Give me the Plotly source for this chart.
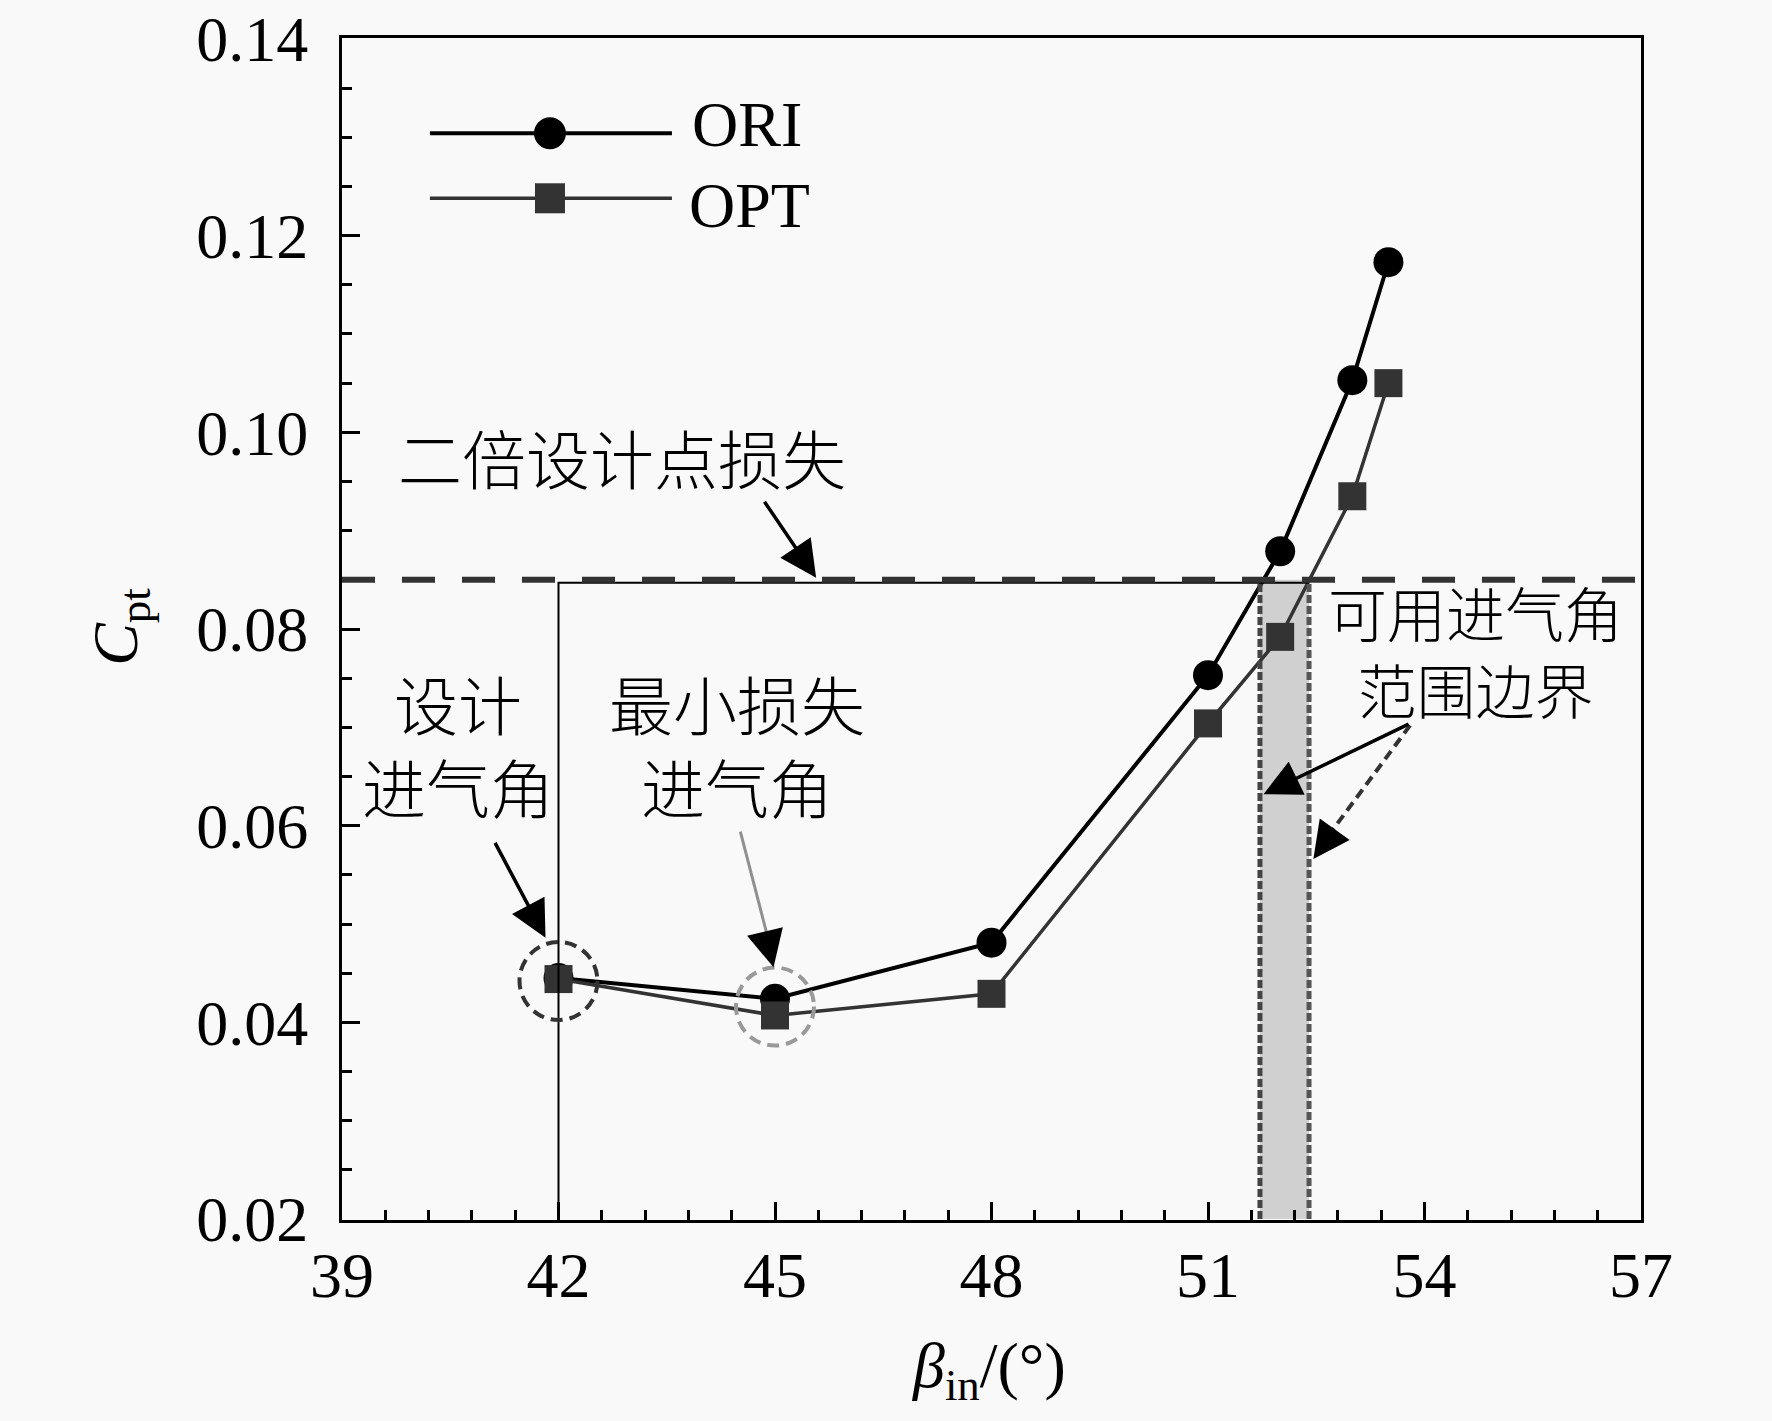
import plotly.graph_objects as go

# inlet angle [deg] and total pressure loss coefficient
beta_in = [42, 45, 48, 51, 52, 53, 53.5]
cpt_ori = [0.0445, 0.0424, 0.0481, 0.0753, 0.0879, 0.1053, 0.1173]
cpt_opt = [0.0444, 0.0407, 0.0429, 0.0704, 0.0792, 0.0935, 0.1050]

x_ticks = [39, 42, 45, 48, 51, 54, 57]
y_ticks = [0.02, 0.04, 0.06, 0.08, 0.10, 0.12, 0.14]
y_tick_labels = ["0.02", "0.04", "0.06", "0.08", "0.10", "0.12", "0.14"]

loss_limit = 0.085          # twice the design point loss
design_beta = 42
min_loss_beta = 45
usable_bounds = [51.72, 52.40]

serif = "Liberation Serif, Noto Sans CJK SC"
cjk = "Noto Sans CJK SC"
bg = "#f9f9f9"

fig = go.Figure()

fig.add_trace(go.Scatter(
    x=beta_in, y=cpt_ori, mode="lines+markers", name="ORI",
    line=dict(color="black", width=4),
    marker=dict(symbol="circle", size=30, color="black"),
    showlegend=False,
))
fig.add_trace(go.Scatter(
    x=beta_in, y=cpt_opt, mode="lines+markers", name="OPT",
    line=dict(color="#333333", width=3.5),
    marker=dict(symbol="square", size=28, color="#333333"),
    showlegend=False,
))

shapes = []
# usable range band
shapes.append(dict(type="rect", xref="x", yref="y", layer="below",
                   x0=usable_bounds[0], x1=usable_bounds[1], y0=0.02, y1=loss_limit,
                   fillcolor="#d0d0d0", line=dict(width=0)))
shapes.append(dict(type="line", xref="x", yref="y",
                   x0=usable_bounds[0], x1=usable_bounds[0], y0=0.02, y1=loss_limit,
                   line=dict(color="#444444", width=5, dash="8px,3px")))
shapes.append(dict(type="line", xref="x", yref="y",
                   x0=usable_bounds[1], x1=usable_bounds[1], y0=0.02, y1=loss_limit,
                   line=dict(color="#555555", width=5, dash="8px,3px")))
# thin guide line from design angle to the band
shapes.append(dict(type="path", xref="x", yref="y",
                   path=f"M {design_beta},0.02 L {design_beta},{loss_limit - 0.0003} L {usable_bounds[1]},{loss_limit - 0.0003}",
                   line=dict(color="black", width=2)))
# loss limit dashed line
shapes.append(dict(type="line", xref="x", yref="y", x0=39, x1=57, y0=loss_limit, y1=loss_limit,
                   line=dict(color="#333333", width=6, dash="33px,27px")))
# dashed circles
shapes.append(dict(type="circle", xref="x", yref="y", xsizemode="pixel", ysizemode="pixel",
                   xanchor=design_beta, yanchor=0.0442, x0=-39, x1=39, y0=-39, y1=39,
                   line=dict(color="#333333", width=4, dash="12px,7px")))
shapes.append(dict(type="circle", xref="x", yref="y", xsizemode="pixel", ysizemode="pixel",
                   xanchor=min_loss_beta, yanchor=0.0416, x0=-39, x1=39, y0=-39, y1=39,
                   line=dict(color="#999999", width=4, dash="12px,7px")))
# gray arrow shaft (minimum loss) and dashed arrow shaft (band right edge)
shapes.append(dict(type="line", xref="x", yref="y", x0=44.52, y0=0.0594, x1=44.94, y1=0.0475,
                   line=dict(color="#909090", width=3)))
shapes.append(dict(type="line", xref="x", yref="y", x0=53.80, y0=0.0702, x1=52.62, y1=0.0585,
                   line=dict(color="#333333", width=4, dash="10px,6px")))

# manual legend
shapes.append(dict(type="line", xref="paper", yref="paper", x0=0.0677, x1=0.254, y0=0.9194, y1=0.9194,
                   line=dict(color="black", width=4)))
shapes.append(dict(type="line", xref="paper", yref="paper", x0=0.0677, x1=0.254, y0=0.8644, y1=0.8644,
                   line=dict(color="#333333", width=3.5)))
shapes.append(dict(type="circle", xref="paper", yref="paper", xsizemode="pixel", ysizemode="pixel",
                   xanchor=0.1601, yanchor=0.9194, x0=-16, x1=16, y0=-16, y1=16,
                   fillcolor="black", line=dict(width=0)))
shapes.append(dict(type="rect", xref="paper", yref="paper", xsizemode="pixel", ysizemode="pixel",
                   xanchor=0.1601, yanchor=0.8644, x0=-15, x1=15, y0=-15, y1=15,
                   fillcolor="#333333", line=dict(width=0)))

annotations = []


def label(text, x, y, size=64, font=cjk, xref="x", yref="y", xanchor="center", angle=0, weight=None):
    f = dict(family=font, size=size, color="black")
    if weight:
        f["weight"] = weight
    annotations.append(dict(text=text, x=x, y=y, xref=xref, yref=yref, showarrow=False,
                            xanchor=xanchor, yanchor="middle", textangle=angle, font=f))


def arrow(tip_x, tip_y, tail_x, tail_y, color="black"):
    annotations.append(dict(text="", x=tip_x, y=tip_y, ax=tail_x, ay=tail_y,
                            xref="x", yref="y", axref="x", ayref="y", showarrow=True,
                            arrowhead=2, arrowsize=2.1, arrowwidth=3.5, arrowcolor=color))


def head(tip_x, tip_y, dx, dy, color="black"):
    annotations.append(dict(text="", x=tip_x, y=tip_y, ax=dx, ay=dy,
                            xref="x", yref="y", showarrow=True,
                            arrowhead=2, arrowsize=2.1, arrowwidth=3.5, arrowcolor=color))


label("二倍设计点损失", 42.88, 0.0976, weight=300)
label("设计<br>进气角", 40.61, 0.0684, weight=300)
label("最小损失<br>进气角", 44.48, 0.0684, weight=300)
label("可用进气角<br>范围边界", 54.70, 0.0779, size=59, weight=300)

arrow(45.57, 0.0852, 44.84, 0.0931)
arrow(41.82, 0.0486, 41.11, 0.0584)
arrow(51.77, 0.0632, 53.80, 0.0704)
head(44.98, 0.0456, -7, -29)
head(52.46, 0.0566, 20, -28)

# legend text
label("ORI", 0.2679, 0.9270, font=serif, xref="paper", yref="paper", xanchor="left")
label("OPT", 0.2656, 0.8585, font=serif, xref="paper", yref="paper", xanchor="left")

# axis titles
label("<i>β</i><sub>in</sub>/(°)", 0.498, -0.127, font=serif, xref="paper", yref="paper")
label("<i>C</i><sub>pt</sub>", -0.171, 0.5017, font=serif, xref="paper", yref="paper", angle=-90)

fig.update_layout(
    width=1772, height=1421,
    margin=dict(l=342, r=131, t=38, b=201),
    plot_bgcolor=bg, paper_bgcolor=bg,
    font=dict(family=serif, color="black"),
    shapes=shapes,
    annotations=annotations,
    showlegend=False,
)
fig.update_xaxes(
    range=[39, 57], tickmode="array", tickvals=x_ticks,
    ticks="inside", ticklen=18, tickwidth=3, tickcolor="black",
    showline=True, linewidth=3, linecolor="black", mirror=True,
    showgrid=False, zeroline=False, automargin=False,
    tickfont=dict(family=serif, size=64, color="black"),
    ticklabelstandoff=-3,
    minor=dict(tick0=39, dtick=0.6, ticks="inside", ticklen=10, tickwidth=3,
               tickcolor="black", showgrid=False),
)
fig.update_yaxes(
    range=[0.0199, 0.1401], tickmode="array", tickvals=y_ticks, ticktext=y_tick_labels,
    ticks="inside", ticklen=18, tickwidth=3, tickcolor="black",
    showline=True, linewidth=3, linecolor="black", mirror=True,
    showgrid=False, zeroline=False, automargin=False,
    tickfont=dict(family=serif, size=64, color="black"),
    ticklabelstandoff=18,
    minor=dict(tick0=0.02, dtick=0.005, ticks="inside", ticklen=10, tickwidth=3,
               tickcolor="black", showgrid=False),
)

fig.write_html("out.html", config={"displayModeBar": False},
               post_script="document.body.style.margin='0';document.body.style.overflow='hidden';")
